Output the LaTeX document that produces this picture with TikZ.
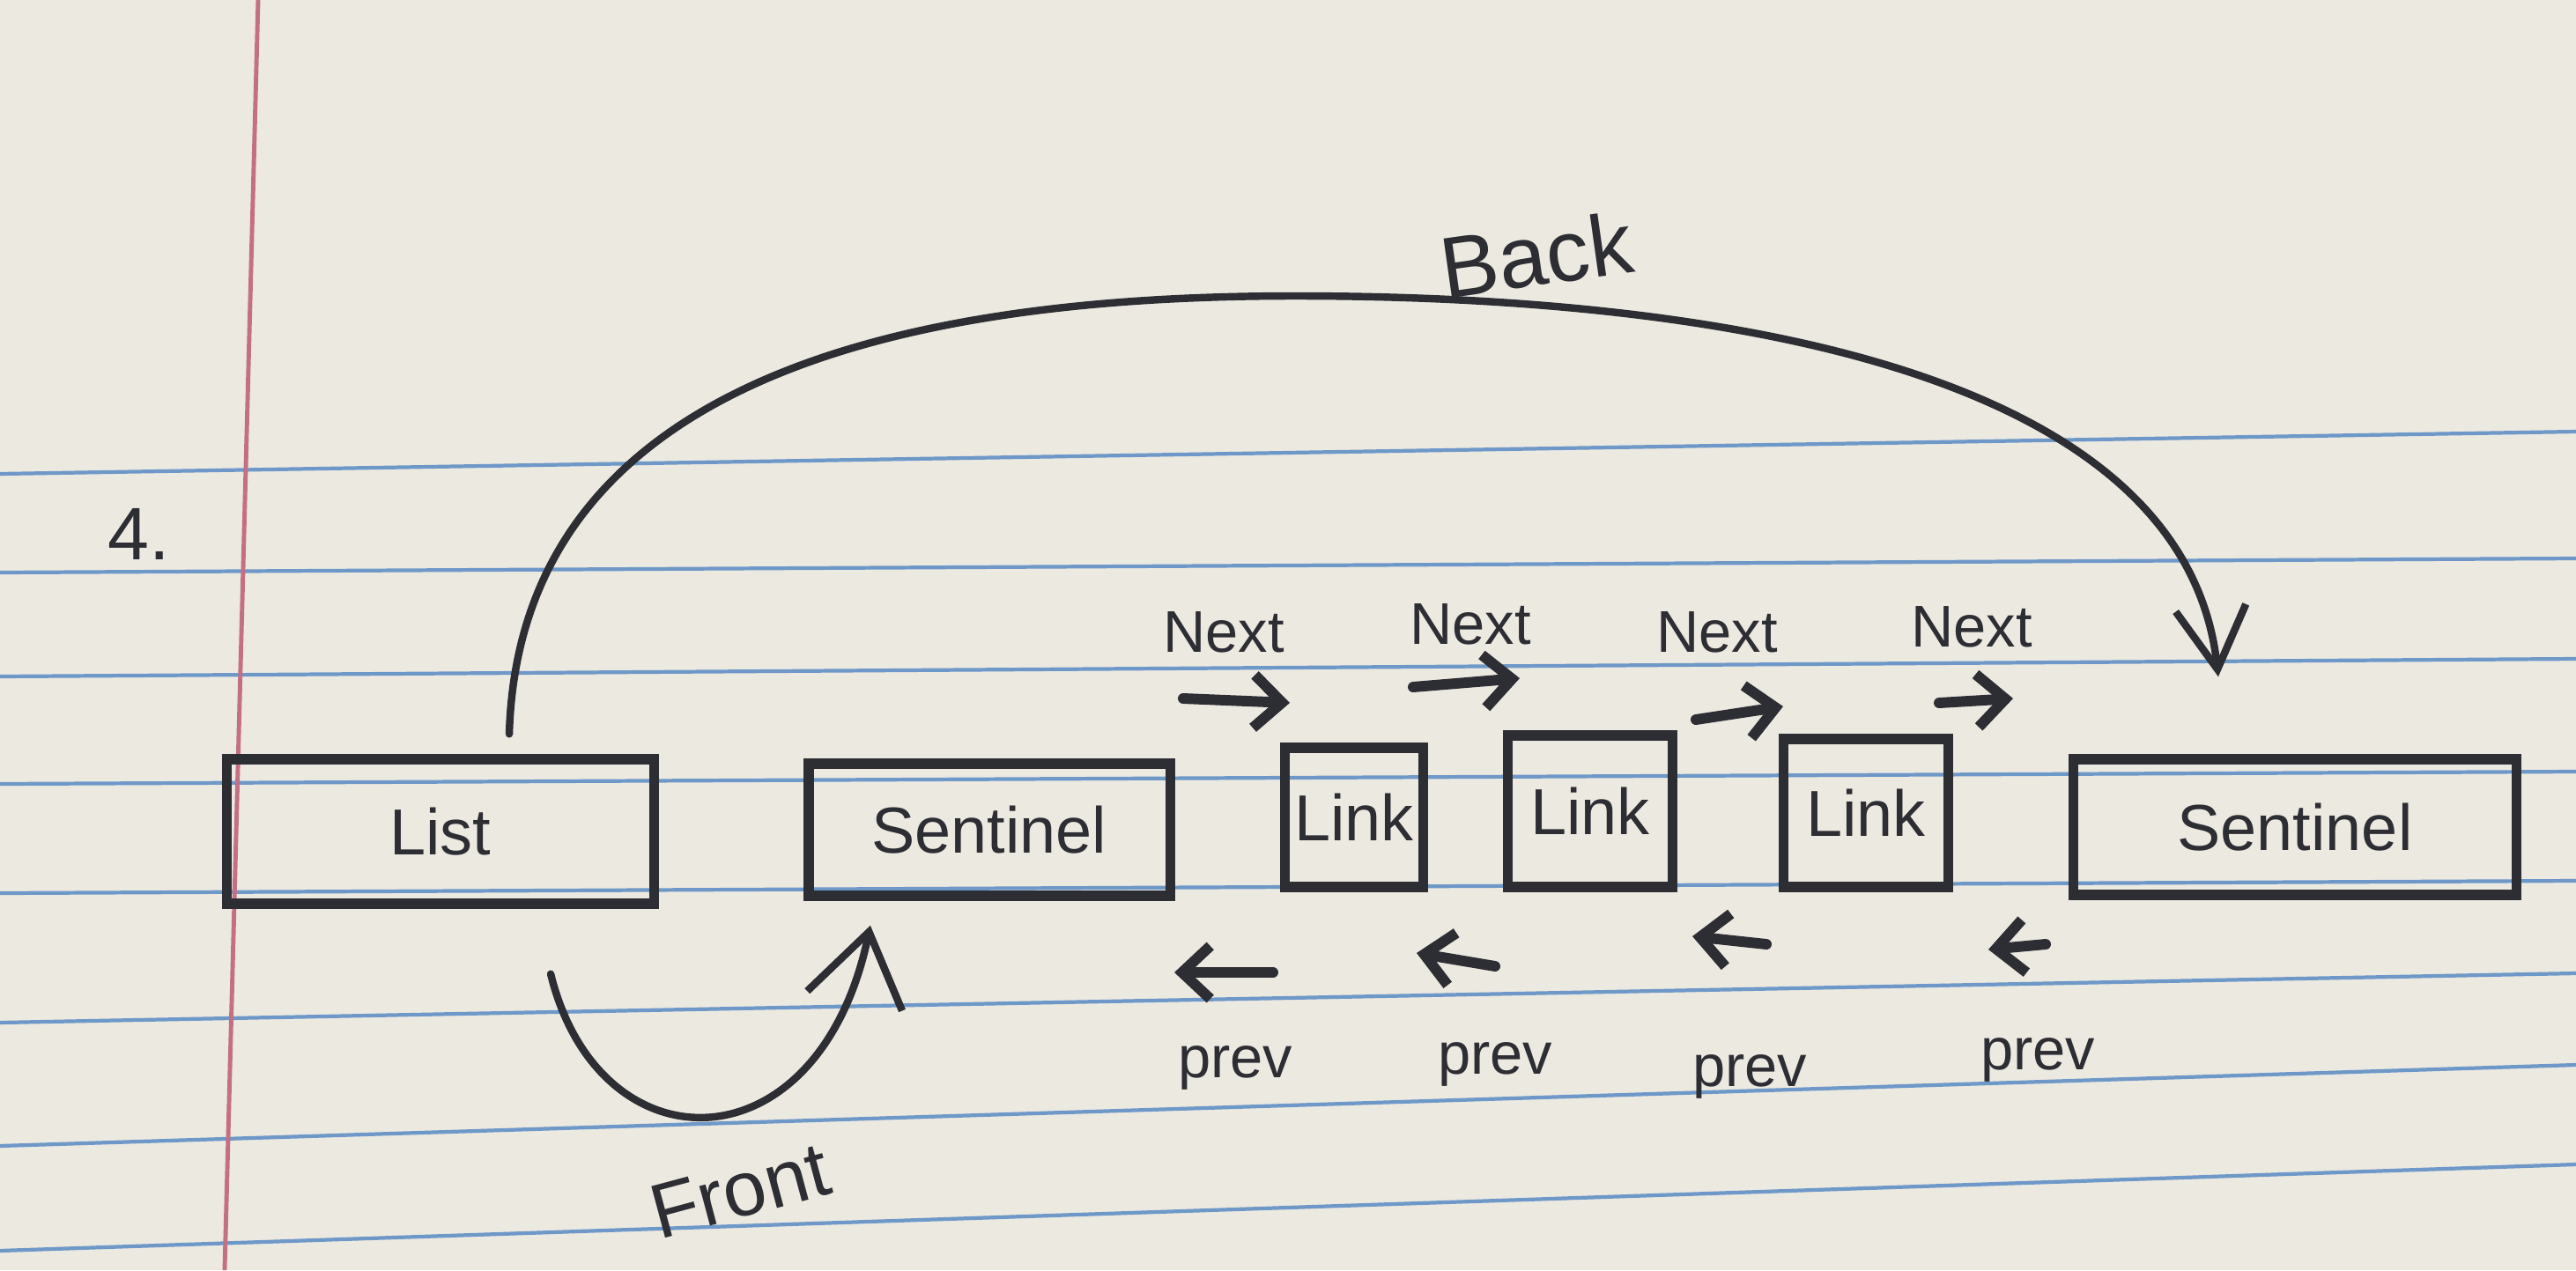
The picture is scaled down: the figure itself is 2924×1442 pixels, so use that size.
\documentclass[tikz,border=0pt]{standalone}
\usepackage{fontspec}
\setmainfont{Liberation Sans}
\usetikzlibrary{arrows.meta}
\definecolor{paper}{RGB}{236,233,225}
\definecolor{ruleBlue}{RGB}{110,152,200}
\definecolor{marginRed}{RGB}{196,112,132}
\definecolor{ink}{RGB}{45,45,52}

\begin{document}
\begin{tikzpicture}[x=0.01cm, y=-0.01cm,
    box/.style 2 args={draw=ink, line width=3.2pt, minimum width=#1, minimum height=#2,
      inner sep=0pt, text=ink, font=\fontsize{21}{25}\selectfont},
    lbl/.style={text=ink, inner sep=1pt, font=\fontsize{19}{23}\selectfont},
    ptr/.style={draw=ink, line width=3.4pt, line cap=round,
      -{Straight Barb[length=0.32cm, width=0.6cm]}},
    arc/.style={draw=ink, line width=2.4pt, line cap=round}]
  % paper
  \fill[paper] (0,0) rectangle (2924,1442);
  \useasboundingbox (0,0) rectangle (2924,1442);
  \foreach \yl/\yr in {538/490, 650/634, 768/748, 890/876, 1014/1000, 1161/1105, 1301/1209, 1420/1322}
    \draw[ruleBlue, line width=1.2pt] (0,\yl) -- (2924,\yr);
  \draw[marginRed, line width=1.4pt] (293,0) -- (255,1442);
  \node[lbl, font=\fontsize{24}{28}\selectfont] (num) at (158,606) {4.};

  % boxes
  \node[box={4.85cm}{1.64cm}] (list) at (500,944) {List};
  \node[box={4.1cm}{1.5cm}] (sentA) at (1123,942) {Sentinel};
  \node[box={1.57cm}{1.58cm}] (link1) at (1537,928) {Link};
  \node[box={1.87cm}{1.72cm}] (link2) at (1805,921) {Link};
  \node[box={1.87cm}{1.68cm}] (link3) at (2118,923) {Link};
  \node[box={5.03cm}{1.54cm}] (sentB) at (2605,939) {Sentinel};

  % back and front
  \draw[arc, -{Straight Barb[length=0.7cm, width=0.8cm]}]
    ([xshift=0.78cm, yshift=0.23cm]list.north) .. controls (590,420) and (1050,336) .. (1470,336)
    .. controls (1950,336) and (2480,420) .. ([xshift=-0.87cm, yshift=0.88cm]sentB.north);
  \node[lbl, font=\fontsize{28}{32}\selectfont, rotate=8] (back) at (1744,289) {Back};
  \draw[arc, -{Straight Barb[length=0.8cm, width=1.1cm]}]
    ([xshift=1.25cm, yshift=-0.74cm]list.south) .. controls (680,1330) and (930,1330)
    .. ([xshift=-1.35cm, yshift=-0.28cm]sentA.south);
  \node[lbl, font=\fontsize{25}{29}\selectfont, rotate=15] (front) at (840,1352) {Front};

  % next pointers
  \foreach \i/\lx/\ly/\ax/\ay/\bx/\by in {1/1389/718/1343/793/1464/798,
      2/1669/709/1604/780/1725/770, 3/1949/718/1925/817/2024/802, 4/2238/712/2201/798/2285/793} {
    \node[lbl] (next\i) at (\lx,\ly) {Next};
    \coordinate (nexta\i) at (\ax,\ay);
    \coordinate (nextb\i) at (\bx,\by);
    \draw[ptr] (nexta\i) -- (nextb\i);
  }
  % prev pointers
  \foreach \i/\lx/\ly/\ax/\ay/\bx/\by in {1/1402/1212/1445/1104/1333/1104,
      2/1697/1208/1697/1097/1608/1082, 3/1986/1222/2005/1072/1921/1063, 4/2313/1203/2322/1072/2257/1078} {
    \node[lbl] (prev\i) at (\lx,\ly) {prev};
    \coordinate (preva\i) at (\ax,\ay);
    \coordinate (prevb\i) at (\bx,\by);
    \draw[ptr] (preva\i) -- (prevb\i);
  }
\end{tikzpicture}
\end{document}
